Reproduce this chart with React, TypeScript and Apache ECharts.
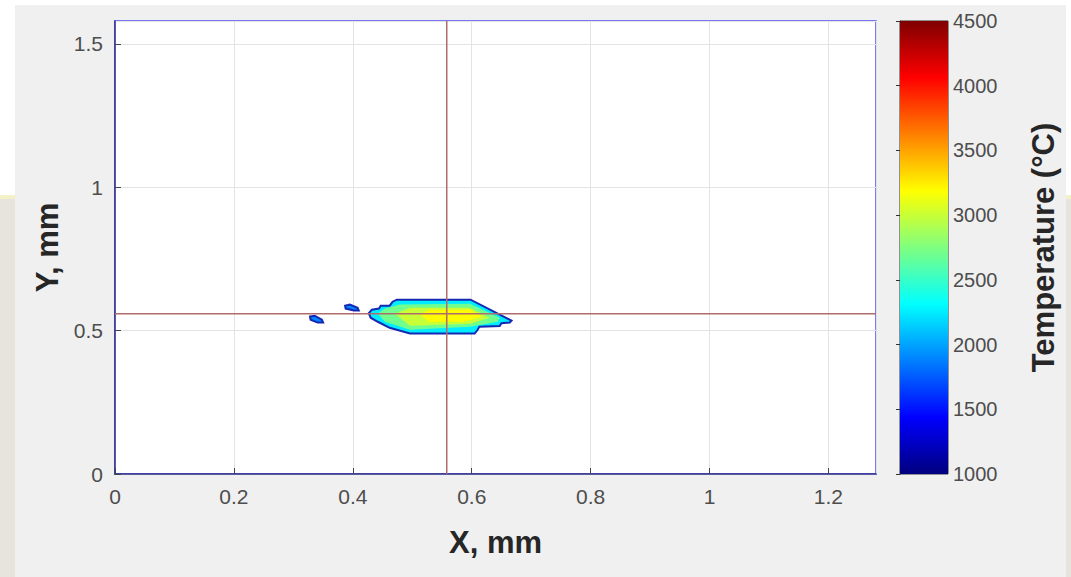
import React, { useEffect, useRef } from "react";
import * as echarts from "echarts";

// ---- Data ----
const X_MIN = 0;
const X_MAX = 1.28;
const X_STEP = 0.2;
const Y_MIN = 0;
const Y_MAX = 1.58;
const Y_STEP = 0.5;

const PROBE_X = 0.558;
const PROBE_Y = 0.559;

const CB_MIN = 1000;
const CB_MAX = 4500;
const CB_STEP = 500;

const JET = ["#00007f", "#0000ff", "#007fff", "#00ffff", "#7fff7f", "#ffff00", "#ff7f00", "#ff0000", "#7f0000"];

// Melt-pool contour polygons (mm) and their temperatures (°C)
const OUTER_CONTOUR: number[][] = [
  [0.427, 0.561], [0.432, 0.573], [0.444, 0.577], [0.447, 0.587], [0.462, 0.587],
  [0.467, 0.601], [0.474, 0.608], [0.598, 0.608], [0.667, 0.535], [0.664, 0.528],
  [0.65, 0.526], [0.647, 0.516], [0.613, 0.514], [0.61, 0.503], [0.605, 0.49],
  [0.496, 0.49], [0.462, 0.51], [0.442, 0.531], [0.43, 0.545],
];
const LEVEL2_CONTOUR: number[][] = [
  [0.442, 0.559], [0.454, 0.577], [0.479, 0.591], [0.597, 0.594], [0.647, 0.545],
  [0.644, 0.531], [0.597, 0.514], [0.496, 0.503], [0.454, 0.531],
];
const LEVEL3_CONTOUR: number[][] = [
  [0.471, 0.559], [0.496, 0.58], [0.597, 0.58], [0.63, 0.545], [0.597, 0.524], [0.496, 0.517],
];
const LEVEL4_CONTOUR: number[][] = [
  [0.513, 0.556], [0.529, 0.573], [0.597, 0.573], [0.617, 0.549], [0.588, 0.531], [0.529, 0.531],
];
const SPOT_A: number[][] = [
  [0.328, 0.549], [0.336, 0.552], [0.348, 0.538], [0.35, 0.528], [0.341, 0.528], [0.329, 0.538],
];
const SPOT_B: number[][] = [
  [0.387, 0.587], [0.395, 0.591], [0.408, 0.58], [0.41, 0.57], [0.402, 0.57], [0.388, 0.577],
];

const CONTOURS = [OUTER_CONTOUR, LEVEL2_CONTOUR, LEVEL3_CONTOUR, LEVEL4_CONTOUR, SPOT_A, SPOT_B];
const CONTOUR_TEMPS = [2250, 2700, 3000, 3200, 1900, 1900];
const CONTOUR_OUTLINED = [1, 0, 0, 0, 1, 1];

const FONT = "'Liberation Sans', Arial, Helvetica, sans-serif";

export default function App() {
  const ref = useRef<HTMLDivElement>(null);

  useEffect(() => {
    document.body.style.margin = "0";
    const chart = echarts.init(ref.current!, null, { renderer: "svg" });

    const contourData = CONTOURS.map((pts, i) => {
      const cx = pts.reduce((s, p) => s + p[0], 0) / pts.length;
      const cy = pts.reduce((s, p) => s + p[1], 0) / pts.length;
      return [cx, cy, CONTOUR_TEMPS[i], i];
    });

    const jetStops = JET.map((c, i) => ({ offset: i / (JET.length - 1), color: c }));

    const option: any = {
      animation: false,
      backgroundColor: "#ffffff",
      graphic: [
        { type: "rect", z: -100, shape: { x: 15, y: 5, width: 1051, height: 572 }, style: { fill: "#f0f0f0" } },
        { type: "rect", z: -100, shape: { x: 0, y: 195, width: 15, height: 382 }, style: { fill: "#e6e4dc" } },
        { type: "rect", z: -100, shape: { x: 0, y: 195, width: 15, height: 4 }, style: { fill: "#f4f0c8" } },
        { type: "rect", z: -100, shape: { x: 1066, y: 195, width: 5, height: 382 }, style: { fill: "#e6e4dc" } },
        { type: "rect", z: -100, shape: { x: 1066, y: 195, width: 5, height: 4 }, style: { fill: "#f4f0c8" } },
      ],
      grid: [
        {
          left: 115, top: 21, width: 761, height: 453,
          show: true, backgroundColor: "#ffffff", borderColor: "#5050f5", borderWidth: 1.5,
        },
        {
          left: 900, top: 21, width: 48, height: 453,
          show: true, backgroundColor: "transparent", borderColor: "#333333", borderWidth: 1,
        },
      ],
      visualMap: {
        show: false, type: "continuous", seriesIndex: 0, dimension: 2,
        min: CB_MIN, max: CB_MAX, inRange: { color: JET },
      },
      xAxis: [
        {
          gridIndex: 0, type: "value", min: X_MIN, max: X_MAX, interval: X_STEP,
          name: "X, mm", nameLocation: "middle", nameGap: 53,
          nameTextStyle: { fontFamily: FONT, fontSize: 31, fontWeight: "bold", color: "#262626" },
          axisLine: { show: true, lineStyle: { color: "#2e2e8a", width: 1.5 } },
          axisTick: { show: true, inside: true, length: 6, lineStyle: { color: "#444" } },
          axisLabel: { showMaxLabel: false, margin: 12, fontFamily: FONT, fontSize: 21, color: "#4d4d4d" },
          splitLine: { show: true, lineStyle: { color: "#e3e3e3", width: 1 } },
        },
        {
          gridIndex: 1, type: "value", min: 0, max: 1, show: false,
        },
      ],
      yAxis: [
        {
          gridIndex: 0, type: "value", min: Y_MIN, max: Y_MAX, interval: Y_STEP,
          name: "Y, mm", nameLocation: "middle", nameGap: 52, nameRotate: 90,
          nameTextStyle: { fontFamily: FONT, fontSize: 31, fontWeight: "bold", color: "#262626" },
          axisLine: { show: true, lineStyle: { color: "#2e2e8a", width: 1.5 } },
          axisTick: { show: true, inside: true, length: 6, lineStyle: { color: "#444" } },
          axisLabel: { showMaxLabel: false, margin: 12, fontFamily: FONT, fontSize: 21, color: "#4d4d4d" },
          splitLine: { show: true, lineStyle: { color: "#e3e3e3", width: 1 } },
        },
        {
          gridIndex: 1, type: "value", min: CB_MIN, max: CB_MAX, interval: CB_STEP, position: "right",
          name: "Temperature (°C)", nameLocation: "middle", nameGap: 80, nameRotate: 90,
          nameTextStyle: { fontFamily: FONT, fontSize: 31, fontWeight: "bold", color: "#262626" },
          axisLine: { show: true, lineStyle: { color: "#333", width: 1 } },
          axisTick: { show: true, inside: true, length: 4, lineStyle: { color: "#333" } },
          axisLabel: {
            margin: 5, fontFamily: FONT, fontSize: 20, color: "#4d4d4d",
            formatter: (v: number) => String(v),
          },
          splitLine: { show: false },
        },
      ],
      series: [
        {
          type: "custom", xAxisIndex: 0, yAxisIndex: 0, z: 3,
          data: contourData,
          renderItem: (params: any, api: any) => {
            const idx = api.value(3);
            const pts = CONTOURS[idx].map((p) => api.coord(p));
            const outlined = CONTOUR_OUTLINED[idx] === 1;
            return {
              type: "polygon",
              shape: { points: pts },
              style: {
                fill: api.visual("color"),
                stroke: outlined ? "#1428b4" : "none",
                lineWidth: outlined ? 2 : 0,
              },
            };
          },
        },
        {
          type: "line", xAxisIndex: 0, yAxisIndex: 0, z: 5, symbol: "none",
          data: [[PROBE_X, Y_MIN], [PROBE_X, Y_MAX]],
          lineStyle: { color: "#b06c6c", width: 1.5 },
        },
        {
          type: "line", xAxisIndex: 0, yAxisIndex: 0, z: 5, symbol: "none",
          data: [[X_MIN, PROBE_Y], [X_MAX, PROBE_Y]],
          lineStyle: { color: "#b06c6c", width: 1.5 },
        },
        {
          type: "custom", xAxisIndex: 1, yAxisIndex: 1, z: 1,
          data: [[0, CB_MIN, 1, CB_MAX]],
          renderItem: (params: any, api: any) => {
            const p0 = api.coord([api.value(0), api.value(1)]);
            const p1 = api.coord([api.value(2), api.value(3)]);
            return {
              type: "rect",
              shape: { x: p0[0], y: p1[1], width: p1[0] - p0[0], height: p0[1] - p1[1] },
              style: { fill: new echarts.graphic.LinearGradient(0, 1, 0, 0, jetStops) },
            };
          },
        },
      ],
    };

    chart.setOption(option);
    return () => chart.dispose();
  }, []);

  return (
    <div
      ref={ref}
      style={{ position: "absolute", left: 0, top: 0, width: 1071, height: 577 }}
    />
  );
}
